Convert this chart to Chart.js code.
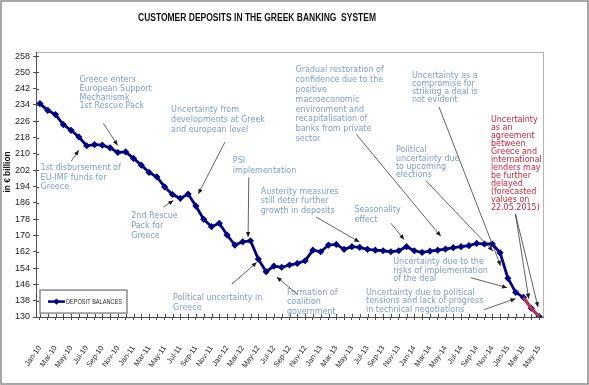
<!DOCTYPE html>
<html><head><meta charset="utf-8">
<script src="https://cdn.jsdelivr.net/npm/chart.js@4/dist/chart.umd.min.js"></script>
<style>html,body{margin:0;padding:0;background:#fff}#wrap{width:589px;height:385px;position:relative}</style>
</head><body><div id="wrap"><canvas id="c" width="589" height="385"></canvas></div>
<script>
// ---------- DATA ----------
const months = ['Jan-10','Feb-10','Mar-10','Apr-10','May-10','Jun-10','Jul-10','Aug-10','Sep-10','Oct-10','Nov-10','Dec-10',
'Jan-11','Feb-11','Mar-11','Apr-11','May-11','Jun-11','Jul-11','Aug-11','Sep-11','Oct-11','Nov-11','Dec-11',
'Jan-12','Feb-12','Mar-12','Apr-12','May-12','Jun-12','Jul-12','Aug-12','Sep-12','Oct-12','Nov-12','Dec-12',
'Jan-13','Feb-13','Mar-13','Apr-13','May-13','Jun-13','Jul-13','Aug-13','Sep-13','Oct-13','Nov-13','Dec-13',
'Jan-14','Feb-14','Mar-14','Apr-14','May-14','Jun-14','Jul-14','Aug-14','Sep-14','Oct-14','Nov-14','Dec-14',
'Jan-15','Feb-15','Mar-15','Apr-15','May-15'];
const deposits = [234.7,231.4,229.3,224.4,221.6,218.3,214.0,214.6,214.3,213.0,210.7,211.0,
207.8,204.5,200.9,198.7,193.8,190.1,188.2,190.3,184.4,177.9,174.3,176.0,
170.2,165.3,166.9,167.4,158.4,152.2,155.0,154.4,155.5,156.3,157.6,162.8,
162.0,165.3,165.6,163.2,164.5,164.2,163.2,162.8,162.5,162.0,162.5,164.5,
162.5,161.7,162.3,162.8,163.3,164.0,164.5,165.0,166.1,165.8,165.8,161.5,
149.0,142.1,139.6,134.3,130.2];
const forecastMonths = ['Mar-15','Apr-15','May-15'];
const forecastValues = [139.6,134.3,130.2];
const yTicks = [130,138,146,154,162,170,178,186,194,202,210,218,226,234,242,250,258];
const seriesName = 'DEPOSIT BALANCES';
const chartTitle = 'CUSTOMER DEPOSITS IN THE GREEK BANKING  SYSTEM';
const yTitle = 'in € billion';

// annotations: text anchor & arrows in data coordinates (category index, value)
const BLUE = '#7e9cc6', RED = '#cc2336';
const notes = [
 {lines:['Greece enters','European Support','Mechanismk','1st Rescue Pack'], x:5.07, y:246.1, lh:8.6, arrows:[[8.14,225.0,9.96,214.2]]},
 {lines:['1st disbursement of','EU-IMF funds for','Greece'], x:0.09, y:202.9, lh:9.5, arrows:[[4.01,206.4,4.98,211.8]]},
 {lines:['Uncertainty from','developments at Greek','and european level'], x:16.82, y:231.4, lh:9.6, arrows:[[23.72,215.8,20.31,190.4]]},
 {lines:['2nd Rescue','Pack for','Greece'], x:11.71, y:179.5, lh:9.7, arrows:[[15.84,183.9,17.11,187.2]]},
 {lines:['PSI','implementation'], x:24.74, y:206.5, lh:9.8, arrows:[[26.78,198.5,26.69,169.2]]},
 {lines:['Political uncertainty in','Greece'], x:17.08, y:139.4, lh:9.6, arrows:[[24.61,146.1,27.8,156.8]]},
 {lines:['Formation of','coalition','government'], x:31.67, y:142.0, lh:9.7, arrows:[[33.08,141.0,30.36,149.6]]},
 {lines:['Austerity measures','still deter further','growth in deposits'], x:28.31, y:191.6, lh:9.7, arrows:[[35.43,179.0,40.96,166.8]]},
 {lines:['Gradual restoration of','confidence due to the','positive','macroeconomic','environment and','recapitalisation of','banks from private','sector'], x:32.78, y:251.0, lh:9.8, arrows:[[40.57,219.6,51.39,169.6]]},
 {lines:['Seasonality','effect'], x:40.32, y:182.6, lh:9.8, arrows:[[45.0,176.0,46.7,168.0]]},
 {lines:['Political','uncertainty due','to upcoming','elections'], x:45.64, y:211.8, lh:8.3, arrows:[[49.48,196.9,58.07,162.4]]},
 {lines:['Uncertainty as a','compromise for','striking a deal is','not evident'], x:47.69, y:248.5, lh:8.2, arrows:[[51.17,233.0,59.06,155.2]]},
 {lines:['Uncertainty due to the','risks of implementation','of the deal'], x:45.3, y:157.0, lh:8.7, arrows:[[55.22,149.3,59.9,144.4]]},
 {lines:['Uncertainty due to political','tensions and lack of progress','in technical negotiations'], x:41.81, y:141.8, lh:8.3, arrows:[[56.92,133.6,60.97,139.0]]},
 {lines:['Uncertainty','as an','agreement','between','Greece and','international','lenders may','be further','delayed','(forecasted','values on','22.05.2015)'], x:57.82, y:226.5, lh:8.0, color:RED, arrows:[[60.97,180.5,62.67,139.0],[60.97,180.5,63.86,134.9]]}
];

// draw text squeezed horizontally to a target width (emulates a narrow face)
function narrowText(ctx, text, x, y, targetW, align){
  const w = ctx.measureText(text).width;
  const k = Math.min(1, targetW / w);
  ctx.save(); ctx.translate(x, y); ctx.scale(k, 1);
  ctx.textAlign = align; ctx.fillText(text, 0, 0); ctx.restore();
}

// ---------- PLUGIN ----------
const deco = {
  id:'deco',
  beforeDraw(chart){
    const {ctx, chartArea:a} = chart;
    ctx.save();
    ctx.fillStyle='#fff'; ctx.fillRect(0,0,chart.width,chart.height);
    ctx.strokeStyle='#b5b5b5'; ctx.lineWidth=1;
    ctx.strokeRect(a.left+0.5, a.top+0.5, a.right-a.left, a.bottom-a.top);
    ctx.restore();
  },
  afterDraw(chart){
    const {ctx, chartArea:a} = chart;
    const xs = chart.scales.x, ys = chart.scales.y;
    ctx.save();
    // inward tick halves
    ctx.strokeStyle='#4d4d4d'; ctx.lineWidth=1;
    ctx.beginPath();
    ys.ticks.forEach((t,i)=>{const p=Math.round(ys.getPixelForTick(i))+0.5; ctx.moveTo(a.left,p); ctx.lineTo(a.left+3,p);});
    xs.ticks.forEach((t,i)=>{const p=Math.round(xs.getPixelForTick(i))+0.5; ctx.moveTo(p,a.bottom); ctx.lineTo(p,a.bottom-3);});
    ctx.stroke();
    // title
    ctx.fillStyle='#111'; ctx.textBaseline='middle';
    ctx.font="bold 10px 'Liberation Sans', Arial";
    narrowText(ctx, chartTitle, 257, 18, 238, 'center');
    // y title
    ctx.save(); ctx.translate(8,172); ctx.rotate(-Math.PI/2);
    ctx.textAlign='center';
    ctx.font="bold 8.3px 'Liberation Sans', Arial"; ctx.fillText(yTitle,0,0); ctx.restore();
    // annotations
    ctx.font="8px 'DejaVu Sans'"; ctx.textAlign='left'; ctx.textBaseline='middle';
    notes.forEach(n=>{
      const c = n.color||BLUE;
      ctx.fillStyle=c;
      const px = xs.getPixelForValue(n.x), py = ys.getPixelForValue(n.y);
      n.lines.forEach((l,i)=>ctx.fillText(l, px, py + i*n.lh));
      n.arrows.forEach(ar=>{
        const x1=xs.getPixelForValue(ar[0]), y1=ys.getPixelForValue(ar[1]);
        const x2=xs.getPixelForValue(ar[2]), y2=ys.getPixelForValue(ar[3]);
        ctx.strokeStyle='#3a3a3a'; ctx.fillStyle='#1a1a1a'; ctx.lineWidth=0.8;
        ctx.beginPath(); ctx.moveTo(x1,y1); ctx.lineTo(x2,y2); ctx.stroke();
        const ang=Math.atan2(y2-y1,x2-x1), L=5, W=2.2;
        ctx.beginPath(); ctx.moveTo(x2,y2);
        ctx.lineTo(x2-L*Math.cos(ang)+W*Math.sin(ang), y2-L*Math.sin(ang)-W*Math.cos(ang));
        ctx.lineTo(x2-L*Math.cos(ang)-W*Math.sin(ang), y2-L*Math.sin(ang)+W*Math.cos(ang));
        ctx.closePath(); ctx.fill();
      });
    });
    // legend box
    const lx = a.left+4, ly = ys.getPixelForValue(143.2), lw=87, lh=23;
    ctx.fillStyle='#fff'; ctx.fillRect(lx,ly,lw,lh);
    ctx.strokeStyle='#8c8c8c'; ctx.lineWidth=1.5; ctx.strokeRect(lx,ly,lw,lh);
    const my = ly+lh/2;
    ctx.strokeStyle='#000080'; ctx.lineWidth=2.5;
    ctx.beginPath(); ctx.moveTo(lx+8,my); ctx.lineTo(lx+25,my); ctx.stroke();
    ctx.fillStyle='#000080';
    ctx.beginPath(); ctx.moveTo(lx+16.5,my-3.2); ctx.lineTo(lx+19.7,my); ctx.lineTo(lx+16.5,my+3.2); ctx.lineTo(lx+13.3,my); ctx.closePath(); ctx.fill();
    ctx.fillStyle='#222'; ctx.font="6.8px 'Liberation Sans', Arial";
    narrowText(ctx, seriesName, lx+26, my+0.5, 56, 'left');
    // outer frame
    ctx.strokeStyle='#8a8a8a'; ctx.lineWidth=1.5;
    ctx.strokeRect(1,1,chart.width-2,chart.height-2);
    ctx.restore();
  }
};

new Chart(document.getElementById('c'), {
  type:'line',
  data:{
    labels: months,
    datasets:[
      {label:'forecast', data: forecastMonths.map((m,i)=>({x:m,y:forecastValues[i]})), borderColor:'#c4304c', borderWidth:3, pointRadius:0, tension:0.3, order:0},
      {label:seriesName, data:deposits, borderColor:'#000080', backgroundColor:'#000080', borderWidth:2.8,
       pointStyle:'rectRot', pointRadius:3.6, pointBorderWidth:0, tension:0, order:1}
    ]
  },
  options:{
    responsive:false, animation:false, devicePixelRatio:1,
    layout:{padding:{top:52,right:46,left:0,bottom:0}},
    plugins:{legend:{display:false}, tooltip:{enabled:false}, title:{display:false}},
    scales:{
      x:{
        type:'category', offset:true,
        grid:{display:true, drawOnChartArea:false, drawTicks:true, tickLength:3, color:'#4d4d4d', offset:false},
        border:{display:true, color:'#4d4d4d', width:1},
        ticks:{autoSkip:false, maxRotation:55, minRotation:55, padding:24, color:'#222',
          font:{family:"'Liberation Sans', Arial", size:7.5},
          callback:function(v,i){return i%2===0 ? this.getLabelForValue(v) : '';}},
        afterFit:s=>{s.height=68;}
      },
      y:{
        min:130, max:260,
        afterBuildTicks:ax=>{ax.ticks = yTicks.map(v=>({value:v}));},
        grid:{display:true, drawOnChartArea:false, drawTicks:true, tickLength:3, color:'#4d4d4d'},
        border:{display:true, color:'#4d4d4d', width:1},
        ticks:{padding:3, color:'#222', font:{family:"'Liberation Sans', Arial", size:9}},
        afterFit:s=>{s.width=36;}
      }
    }
  },
  plugins:[deco]
});
</script></body></html>
